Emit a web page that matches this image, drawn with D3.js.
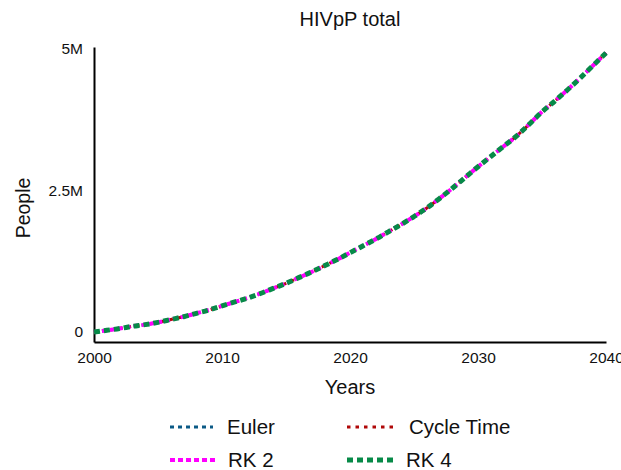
<!DOCTYPE html>
<html>
<head>
<meta charset="utf-8">
<script src="https://cdn.jsdelivr.net/npm/d3@7"></script>
<style>
  html, body { margin: 0; padding: 0; background: #fff; }
  svg { display: block; font-family: "Liberation Sans", Arial, sans-serif; }
</style>
</head>
<body>
<svg id="chart" width="621" height="470"></svg>
<script>
// Years simulated
const years = [2000, 2001, 2002, 2003, 2004, 2005, 2006, 2007, 2008, 2009,
  2010, 2011, 2012, 2013, 2014, 2015, 2016, 2017, 2018, 2019,
  2020, 2021, 2022, 2023, 2024, 2025, 2026, 2027, 2028, 2029,
  2030, 2031, 2032, 2033, 2034, 2035, 2036, 2037, 2038, 2039, 2040];

// HIV+ population (millions) from each integration method
const euler = [0.00, 0.03, 0.06, 0.10, 0.13, 0.17, 0.22, 0.27, 0.33, 0.39,
  0.46, 0.53, 0.60, 0.68, 0.77, 0.86, 0.96, 1.06, 1.17, 1.28,
  1.40, 1.52, 1.64, 1.77, 1.90, 2.04, 2.19, 2.36, 2.54, 2.73,
  2.92, 3.10, 3.28, 3.46, 3.67, 3.89, 4.08, 4.28, 4.49, 4.71, 4.93];
const cycleTime = [0.00, 0.03, 0.06, 0.10, 0.13, 0.17, 0.22, 0.27, 0.33, 0.39,
  0.46, 0.53, 0.60, 0.68, 0.77, 0.86, 0.96, 1.06, 1.17, 1.28,
  1.40, 1.52, 1.64, 1.77, 1.90, 2.04, 2.19, 2.36, 2.54, 2.73,
  2.92, 3.10, 3.28, 3.46, 3.67, 3.89, 4.08, 4.28, 4.49, 4.71, 4.93];
const rk2 = [0.00, 0.03, 0.06, 0.10, 0.13, 0.17, 0.22, 0.27, 0.33, 0.39,
  0.46, 0.53, 0.60, 0.68, 0.77, 0.86, 0.96, 1.06, 1.17, 1.28,
  1.40, 1.52, 1.64, 1.77, 1.90, 2.04, 2.19, 2.36, 2.54, 2.73,
  2.92, 3.10, 3.28, 3.46, 3.67, 3.89, 4.08, 4.28, 4.49, 4.71, 4.93];
const rk4 = [0.00, 0.03, 0.06, 0.10, 0.13, 0.17, 0.22, 0.27, 0.33, 0.39,
  0.46, 0.53, 0.60, 0.68, 0.77, 0.86, 0.96, 1.06, 1.17, 1.28,
  1.40, 1.52, 1.64, 1.77, 1.90, 2.04, 2.19, 2.36, 2.54, 2.73,
  2.92, 3.10, 3.28, 3.46, 3.67, 3.89, 4.08, 4.28, 4.49, 4.71, 4.93];

const seriesNames = ["Euler", "Cycle Time", "RK 2", "RK 4"];
const seriesValues = [euler, cycleTime, rk2, rk4];

const xTicks = [2000, 2010, 2020, 2030, 2040];
const xTickLabels = ["2000", "2010", "2020", "2030", "2040"];
const yTicks = [0, 2.5, 5];
const yTickLabels = ["0", "2.5M", "5M"];

const styles = [
  { color: "#0b5a86", width: 3, dash: "4,4" },
  { color: "#b00808", width: 3, dash: "3.5,5" },
  { color: "#ff00ff", width: 4, dash: "5,3" },
  { color: "#078a48", width: 5, dash: "6,4" }
];

const svg = d3.select("#chart");
const margin = { left: 94, right: 15, top: 47, bottom: 128 };
const W = 621, H = 470;

const x = d3.scaleLinear().domain([2000, 2040]).range([margin.left, W - margin.right]);
const y = d3.scaleLinear().domain([-0.177, 5.035]).range([H - margin.bottom, margin.top]);

// Title
svg.append("text")
  .attr("x", (x.range()[0] + x.range()[1]) / 2).attr("y", 26)
  .attr("text-anchor", "middle").attr("font-size", 20).attr("fill", "#111")
  .text("HIVpP total");

// Axes
const xAxis = d3.axisBottom(x).tickValues(xTicks).tickFormat((d, i) => xTickLabels[i]).tickSize(0).tickPadding(10);
const yAxis = d3.axisLeft(y).tickValues(yTicks).tickFormat((d, i) => yTickLabels[i]).tickSize(0).tickPadding(11);

const gx = svg.append("g").attr("transform", `translate(0,${y.range()[0]})`).call(xAxis);
const gy = svg.append("g").attr("transform", `translate(${x.range()[0]},0)`).call(yAxis);
[gx, gy].forEach(g => {
  g.select(".domain").attr("stroke", "#000").attr("stroke-width", 2);
  g.selectAll("text").attr("font-size", 15.5).attr("fill", "#111")
    .attr("font-family", "'Liberation Sans', Arial, sans-serif");
});

// Axis titles
svg.append("text")
  .attr("x", (x.range()[0] + x.range()[1]) / 2).attr("y", 394)
  .attr("text-anchor", "middle").attr("font-size", 20).attr("fill", "#111")
  .text("Years");
svg.append("text")
  .attr("transform", "translate(30,208) rotate(-90)")
  .attr("text-anchor", "middle").attr("font-size", 19.5).attr("fill", "#111")
  .text("People");

// Lines
const line = d3.line().x((d, i) => x(years[i])).y(d => y(d)).curve(d3.curveMonotoneX);
seriesValues.forEach((vals, k) => {
  svg.append("path")
    .datum(vals)
    .attr("d", line)
    .attr("fill", "none")
    .attr("stroke", styles[k].color)
    .attr("stroke-width", styles[k].width)
    .attr("stroke-dasharray", styles[k].dash);
});

// Legend
const legendPos = [
  { x: 170, y: 427, len: 43, tx: 227 },
  { x: 347, y: 427, len: 50, tx: 409 },
  { x: 170, y: 460, len: 46, tx: 228 },
  { x: 347, y: 460, len: 46, tx: 406 }
];
seriesNames.forEach((name, k) => {
  const p = legendPos[k];
  svg.append("line")
    .attr("x1", p.x).attr("x2", p.x + p.len).attr("y1", p.y).attr("y2", p.y)
    .attr("stroke", styles[k].color).attr("stroke-width", styles[k].width)
    .attr("stroke-dasharray", styles[k].dash);
  svg.append("text")
    .attr("x", p.tx).attr("y", p.y).attr("dy", "0.35em")
    .attr("font-size", 20.5).attr("fill", "#111")
    .text(name);
});
</script>
</body>
</html>
